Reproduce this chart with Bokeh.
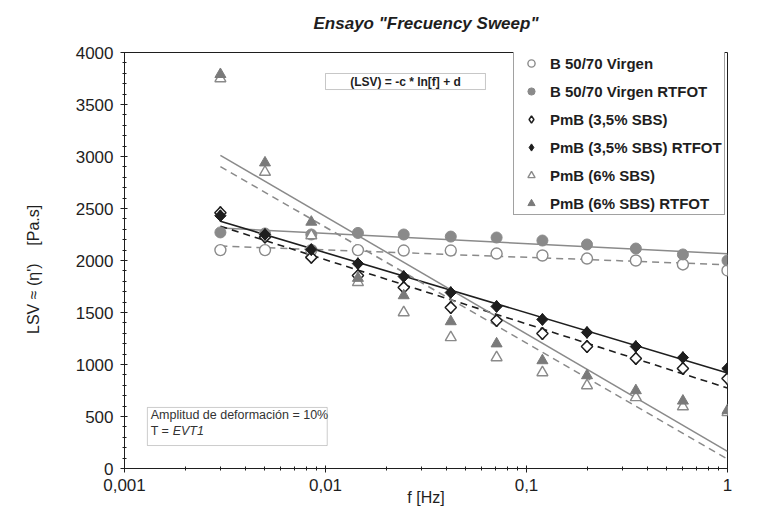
import numpy as np
from bokeh.plotting import figure
from bokeh.models import (Legend, LegendItem, Label, BoxAnnotation, FixedTicker, Range1d, Title)
from bokeh.embed import file_html
from bokeh.resources import INLINE

# ---------------- data ----------------
freq = [0.003, 0.005, 0.0085, 0.0145, 0.0245, 0.042, 0.071, 0.12, 0.2, 0.35, 0.6, 1.0]
virgen = [2100, 2100, 2100, 2100, 2096, 2096, 2067, 2048, 2019, 2000, 1962, 1904]
virgen_rtfot = [2270, 2260, 2250, 2265, 2250, 2230, 2221, 2192, 2154, 2115, 2058, 2000]
pmb35 = [2460, 2225, 2030, 1855, 1740, 1548, 1423, 1298, 1173, 1058, 962, 865]
pmb35_rtfot = [2430, 2250, 2105, 1970, 1846, 1692, 1558, 1433, 1308, 1173, 1067, 962]
pmb6 = [3750, 2850, 2240, 1790, 1500, 1260, 1067, 923, 798, 683, 595, 540]
pmb6_rtfot = [3790, 2940, 2370, 1830, 1663, 1413, 1200, 1038, 894, 750, 650, 560]

series_labels = ["B 50/70 Virgen", "B 50/70 Virgen RTFOT", "PmB (3,5% SBS)",
                 "PmB (3,5% SBS) RTFOT", "PmB (6% SBS)", "PmB (6% SBS) RTFOT"]

x_ticks = [0.001, 0.01, 0.1, 1]
x_tick_labels = ["0,001", "0,01", "0,1", "1"]
y_ticks = [0, 500, 1000, 1500, 2000, 2500, 3000, 3500, 4000]

title_text = 'Ensayo "Frecuency Sweep"'
x_title = "f [Hz]"
y_title = ("LSV \u2248 (\u03b7')\u00a0\u00a0\u00a0\u00a0[Pa.s]"
           "\u00a0\u00a0\u00a0\u00a0")
formula_text = "(LSV) = -c * ln[f] + d"
note_line1 = "Amplitud de deformación = 10%"
note_line2 = "T = "
note_italic = "EVT1"

FONT = "Liberation Sans"
GREY = "#8a8a8a"
DARK = "#1e1e1e"

p = figure(width=756, height=508, x_axis_type="log", title=None,
           x_range=Range1d(0.001, 1), y_range=Range1d(0, 4000),
           output_backend="svg", toolbar_location=None,
           min_border_left=124, min_border_right=29,
           min_border_top=52, min_border_bottom=40)

p.background_fill_color = "white"
p.border_fill_color = "white"
p.outline_line_color = DARK
p.outline_line_width = 1
p.xgrid.visible = False
p.ygrid.visible = False

# title: a small empty spacer title next to the frame, the real title above it
p.add_layout(Title(text=" ", text_font=FONT, text_font_size="11px", standoff=6), "above")
p.add_layout(Title(text=title_text, text_font=FONT, text_font_style="bold italic",
                   text_font_size="17px", text_color=DARK, align="center",
                   standoff=0), "above")

# axes
minor_x = [m * 10.0 ** e for e in (-3, -2, -1) for m in range(2, 10)]
p.xaxis.ticker = FixedTicker(ticks=x_ticks, minor_ticks=minor_x)
p.xaxis.major_label_overrides = {t: l for t, l in zip(x_ticks, x_tick_labels)}
p.yaxis.ticker = FixedTicker(ticks=y_ticks, minor_ticks=list(range(0, 4001, 100)))

for ax in (p.xaxis[0], p.yaxis[0]):
    ax.axis_line_color = DARK
    ax.major_tick_line_color = DARK
    ax.minor_tick_line_color = DARK
    ax.major_tick_out = 4
    ax.major_tick_in = 3
    ax.minor_tick_out = 2
    ax.minor_tick_in = 2
    ax.major_label_text_font = FONT
    ax.major_label_text_font_size = "17px"
    ax.major_label_text_color = DARK
    ax.axis_label_text_font = FONT
    ax.axis_label_text_font_style = "normal"
    ax.axis_label_text_font_size = "16px"
    ax.axis_label_text_color = DARK

p.xaxis.axis_label = x_title
p.xaxis.major_label_standoff = 6
p.xaxis.axis_label_standoff = -5
p.yaxis.axis_label = y_title
p.yaxis.major_label_standoff = 7
p.yaxis.axis_label_standoff = 31

# trend lines (logarithmic fits, like the spreadsheet trendlines)
lnf = np.log(np.array(freq))
f_line = np.array([freq[0], freq[-1]])


def trend(vals):
    c, d = np.polyfit(lnf, np.array(vals, dtype=float), 1)
    return c * np.log(f_line) + d


p.line(f_line, trend(virgen), line_color=GREY, line_width=1.5, line_dash="7 5")
p.line(f_line, trend(virgen_rtfot), line_color=GREY, line_width=1.5)
p.line(f_line, trend(pmb35), line_color=DARK, line_width=1.6, line_dash="7 5")
p.line(f_line, trend(pmb35_rtfot), line_color=DARK, line_width=1.6)
p.line(f_line, trend(pmb6), line_color=GREY, line_width=1.5, line_dash="7 5")
p.line(f_line, trend(pmb6_rtfot), line_color=GREY, line_width=1.5)

# markers
r1 = p.scatter(freq, virgen, marker="circle", size=11, fill_color="white",
               line_color=GREY, line_width=1.4)
r2 = p.scatter(freq, virgen_rtfot, marker="circle", size=11, fill_color=GREY,
               line_color=GREY, line_width=1)
# diamond swatches used by the legend (hidden below the rotated squares)
k3 = p.scatter(freq, pmb35, marker="diamond", size=12, fill_color="white",
               line_color=DARK, line_width=1.5)
r3 = p.scatter(freq, pmb35, marker="square", angle=np.pi / 4, size=8,
               fill_color="white", line_color=DARK, line_width=1.5)
k4 = p.scatter(freq, pmb35_rtfot, marker="diamond", size=12, fill_color=DARK,
               line_color=DARK, line_width=1)
r4 = p.scatter(freq, pmb35_rtfot, marker="square", angle=np.pi / 4, size=8,
               fill_color=DARK, line_color=DARK, line_width=1)
r5 = p.scatter(freq, pmb6, marker="triangle", size=11, fill_color="white",
               line_color=GREY, line_width=1.4)
r6 = p.scatter(freq, pmb6_rtfot, marker="triangle", size=11, fill_color="#7a7a7a",
               line_color="#7a7a7a", line_width=1)

legend = Legend(items=[LegendItem(label=l, renderers=[r])
                       for l, r in zip(series_labels, [r1, r2, k3, k4, r5, r6])],
                location=(389, 253))
legend.label_text_font = FONT
legend.label_text_font_style = "bold"
legend.label_text_font_size = "15px"
legend.label_text_color = DARK
legend.glyph_width = 30
legend.glyph_height = 18
legend.label_height = 18
legend.label_standoff = 4
legend.spacing = 10
legend.padding = 2
legend.margin = 0
legend.border_line_color = "#444444"
legend.border_line_width = 1
legend.background_fill_color = "white"
legend.background_fill_alpha = 1
p.add_layout(legend)

# formula box
p.add_layout(BoxAnnotation(left=0.01, right=0.0625, bottom=3644, top=3798,
                           fill_color="white", fill_alpha=1,
                           line_color="#444444", line_width=1))
p.add_layout(Label(x=0.025, y=3721, text=formula_text, text_align="center",
                   text_baseline="middle", text_font=FONT,
                   text_font_style="bold", text_font_size="12px", text_color=DARK))

# note box (bottom left)
p.add_layout(BoxAnnotation(left=0.0013, right=0.0102, bottom=221, top=587,
                           fill_color="white", fill_alpha=1,
                           line_color="#555555", line_width=1))
p.add_layout(Label(x=0.00135, y=510, text=note_line1, text_align="left",
                   text_baseline="middle", text_font=FONT,
                   text_font_size="12.5px", text_color="#333333"))
p.add_layout(Label(x=0.00135, y=365, text=note_line2, text_align="left",
                   text_baseline="middle", text_font=FONT,
                   text_font_size="12.5px", text_color="#333333"))
p.add_layout(Label(x=0.00135, y=365, x_offset=22, text=note_italic, text_align="left",
                   text_baseline="middle", text_font=FONT,
                   text_font_style="italic", text_font_size="12.5px",
                   text_color="#333333"))

open("out.html", "w").write(file_html(p, INLINE))
